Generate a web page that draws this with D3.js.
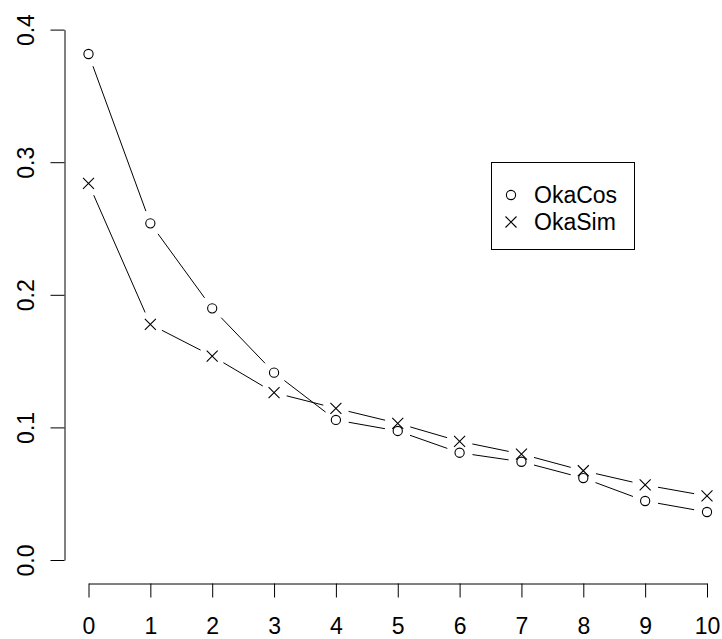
<!DOCTYPE html>
<html>
<head>
<meta charset="utf-8">
<script src="https://cdn.jsdelivr.net/npm/d3@7"></script>
<style>
  html, body { margin: 0; padding: 0; background: #fff; }
  svg { display: block; }
  text { font-family: "Liberation Sans", Arial, sans-serif; fill: #000; }
</style>
</head>
<body>
<svg id="chart" width="722" height="639"></svg>
<script>
const xValues = [0, 1, 2, 3, 4, 5, 6, 7, 8, 9, 10];
const okaCos = [0.3816, 0.2539, 0.1898, 0.1413, 0.1056, 0.0973, 0.0809, 0.0741, 0.0618, 0.0445, 0.0362];
const okaSim = [0.2841, 0.1777, 0.1538, 0.1262, 0.1144, 0.1031, 0.0895, 0.0799, 0.0673, 0.0566, 0.0483];
const seriesNames = ["OkaCos", "OkaSim"];
const xTicks = [0, 1, 2, 3, 4, 5, 6, 7, 8, 9, 10];
const yTicks = [0.0, 0.1, 0.2, 0.3, 0.4];
const yTickLabels = ["0.0", "0.1", "0.2", "0.3", "0.4"];

const svg = d3.select("#chart");
const fontSize = 23;

const x = d3.scaleLinear().domain([0, 10]).range([88.5, 707]);
const y = d3.scaleLinear().domain([0, 0.4]).range([560, 29.6]);

// Y axis
const yAxis = d3.axisLeft(y).tickValues(yTicks).tickSize(14).tickSizeOuter(0)
  .tickFormat((d, i) => yTickLabels[i]);
const gy = svg.append("g").attr("transform", "translate(64.5,0)").call(yAxis);
gy.select(".domain").attr("stroke", "#000");
gy.selectAll(".tick line").attr("stroke", "#000");
gy.selectAll(".tick text")
  .attr("font-size", fontSize)
  .attr("font-family", "Liberation Sans, Arial, sans-serif")
  .attr("fill", "#000")
  .attr("x", null).attr("dy", null)
  .attr("text-anchor", "middle")
  .attr("transform", "translate(-31,0) rotate(-90)");

// X axis
const xAxis = d3.axisBottom(x).tickValues(xTicks).tickSize(14).tickSizeOuter(0)
  .tickFormat(d3.format("d"));
const gx = svg.append("g").attr("transform", "translate(0,583.5)").call(xAxis);
gx.select(".domain").attr("stroke", "#000");
gx.selectAll(".tick line").attr("stroke", "#000");
gx.selectAll(".tick text")
  .attr("font-size", fontSize)
  .attr("font-family", "Liberation Sans, Arial, sans-serif")
  .attr("fill", "#000")
  .attr("y", 50).attr("dy", null);

// Type "b" lines: segments with gaps around points
const gap = 13;
function drawSeries(vals, symbol) {
  const pts = vals.map((v, i) => [x(xValues[i]), y(v)]);
  const g = svg.append("g");
  for (let i = 0; i < pts.length - 1; i++) {
    const [x0, y0] = pts[i], [x1, y1] = pts[i + 1];
    const dx = x1 - x0, dy = y1 - y0, len = Math.hypot(dx, dy);
    if (len <= 2 * gap) continue;
    const ux = dx / len, uy = dy / len;
    g.append("line")
      .attr("x1", x0 + ux * gap).attr("y1", y0 + uy * gap)
      .attr("x2", x1 - ux * gap).attr("y2", y1 - uy * gap)
      .attr("stroke", "#000").attr("stroke-width", 1);
  }
  pts.forEach(p => drawSymbol(g, p[0], p[1], symbol));
}
function drawSymbol(g, cx, cy, symbol) {
  if (symbol === "circle") {
    g.append("circle").attr("cx", cx).attr("cy", cy).attr("r", 4.6)
      .attr("fill", "none").attr("stroke", "#000").attr("stroke-width", 1.1);
  } else {
    const s = 5.5;
    g.append("path")
      .attr("d", `M${cx - s},${cy - s}L${cx + s},${cy + s}M${cx - s},${cy + s}L${cx + s},${cy - s}`)
      .attr("stroke", "#000").attr("stroke-width", 1.1).attr("fill", "none");
  }
}
drawSeries(okaCos, "circle");
drawSeries(okaSim, "cross");

// Legend
const lg = svg.append("g");
lg.append("rect").attr("x", 491.5).attr("y", 162.5).attr("width", 143).attr("height", 87)
  .attr("fill", "#fff").attr("stroke", "#000").attr("stroke-width", 1);
const legendRows = [195, 222];
const symbols = ["circle", "cross"];
seriesNames.forEach((name, i) => {
  drawSymbol(lg, 511, legendRows[i], symbols[i]);
  lg.append("text").attr("x", 534).attr("y", legendRows[i]).attr("dy", "0.36em")
    .attr("font-size", fontSize).text(name);
});
</script>
</body>
</html>
